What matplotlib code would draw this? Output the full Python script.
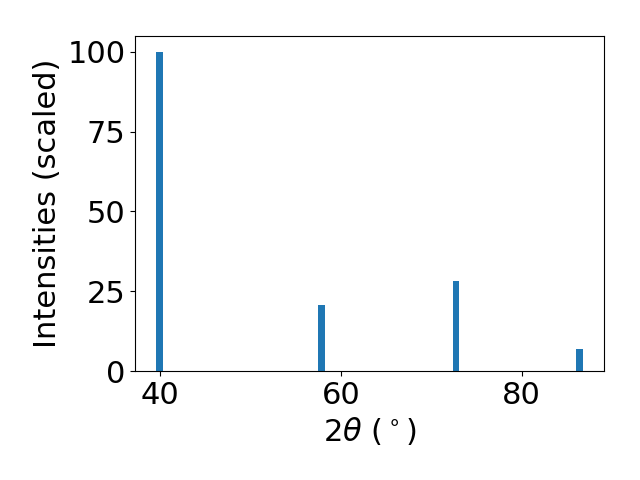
import matplotlib
matplotlib.use("Agg")
import matplotlib.pyplot as plt

# peak positions (2theta, degrees) and scaled intensities
two_theta = [40.0, 57.87, 72.72, 86.37]
intensities = [100.0, 20.7, 28.2, 6.9]

fig, ax = plt.subplots(figsize=(6.4, 4.8), dpi=100)
fig.subplots_adjust(left=0.211, right=0.944, top=0.925, bottom=0.227)

ax.bar(two_theta, intensities, width=0.75, color="#1f77b4")

ax.set_xlabel(r"$2\theta$ ($^\circ$)", fontsize=22)
ax.set_ylabel("Intensities (scaled)", fontsize=22)
ax.set_yticks([0, 25, 50, 75, 100])
ax.tick_params(labelsize=22)

fig.savefig("out.png")
